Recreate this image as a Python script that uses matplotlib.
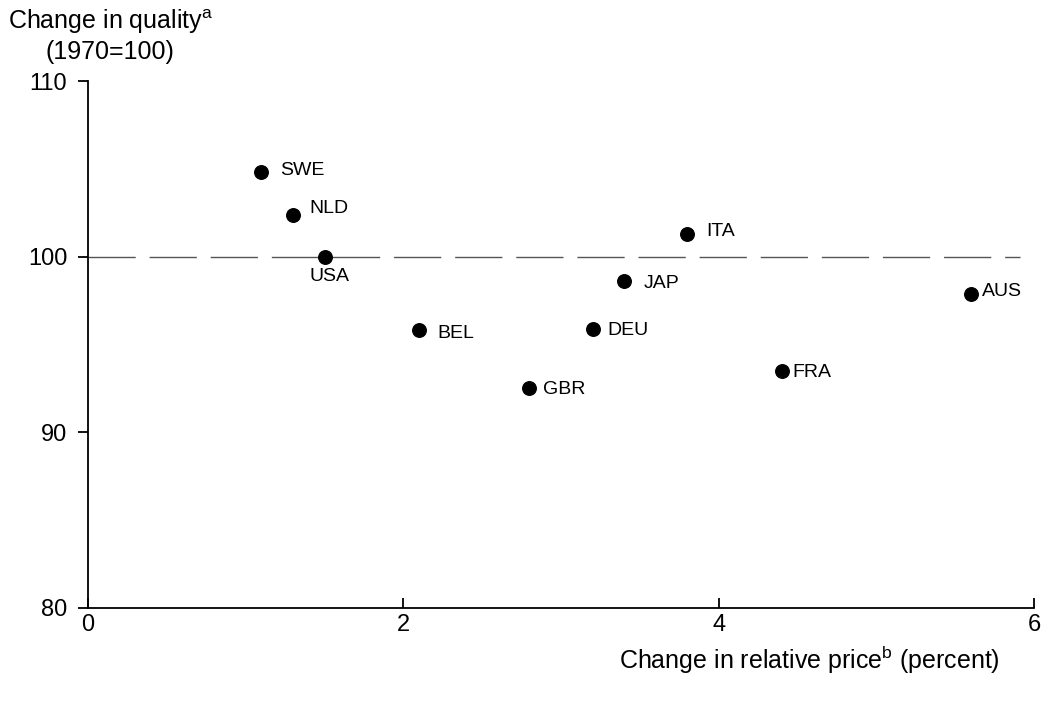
import matplotlib
matplotlib.use("Agg")
import matplotlib.pyplot as plt

countries = ["SWE", "NLD", "USA", "BEL", "GBR", "DEU", "JAP", "ITA", "FRA", "AUS"]
price_change = [1.1, 1.3, 1.5, 2.1, 2.8, 3.2, 3.4, 3.8, 4.4, 5.6]
quality = [104.8, 102.4, 100.0, 95.8, 92.5, 95.9, 98.6, 101.3, 93.5, 97.9]
label_offsets = {"SWE": (19, 2), "NLD": (16, 6), "USA": (-15, -20), "BEL": (18, -3),
                 "GBR": (14, -1), "DEU": (15, -2), "JAP": (20, -2), "ITA": (19, 2),
                 "FRA": (11, -2), "AUS": (11, 2)}
xticks = [0, 2, 4, 6]
yticks = [80, 90, 100, 110]

plt.rcParams['font.family'] = ['Liberation Sans', 'DejaVu Sans']
plt.rcParams['mathtext.fontset'] = 'custom'
plt.rcParams['mathtext.rm'] = 'Liberation Sans'
plt.rcParams['mathtext.it'] = 'Liberation Sans'

fig = plt.figure(figsize=(10.42, 7.04), dpi=100)
ax = fig.add_axes([0.0845, 0.1364, 0.9078, 0.7485])

ax.axhline(100, xmin=0, xmax=0.985, color='#555555', lw=1.0, dashes=(34, 10), zorder=1)
ax.scatter(price_change, quality, s=95, color='black', zorder=3)
for c, x, y in zip(countries, price_change, quality):
    dx, dy = label_offsets[c]
    ax.annotate(c, (x, y), xytext=(dx, dy), textcoords='offset pixels',
                ha='left', va='center', fontsize=14)

ax.set_xlim(0, 6)
ax.set_ylim(80, 110)
ax.set_xticks(xticks)
ax.set_yticks(yticks)
ax.tick_params(axis='x', direction='in', length=7, width=1.3, labelsize=17, pad=4)
ax.tick_params(axis='y', direction='out', length=7, width=1.3, labelsize=17, pad=8)
for s in ['top', 'right']:
    ax.spines[s].set_visible(False)
for s in ['left', 'bottom']:
    ax.spines[s].set_linewidth(1.3)

fig.text(8 / 1042, 1 - 22 / 704, r"Change in quality$^{\mathrm{a}}$", fontsize=18, ha='left', va='center')
fig.text(110 / 1042, 1 - 52 / 704, "(1970=100)", fontsize=18, ha='center', va='center')
fig.text(1000 / 1042, 1 - 660 / 704, r"Change in relative price$^{\mathrm{b}}$ (percent)", fontsize=18,
         ha='right', va='center')

fig.savefig("out.png", dpi=100)
